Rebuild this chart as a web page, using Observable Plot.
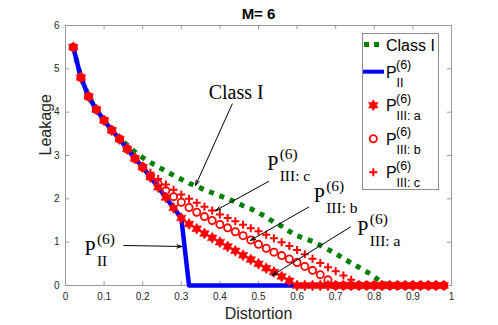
<!DOCTYPE html>
<html><head><meta charset="utf-8">
<script src="https://cdn.jsdelivr.net/npm/d3@7"></script>
<script src="https://cdn.jsdelivr.net/npm/@observablehq/plot@0.6"></script>
<style>html,body{margin:0;padding:0;background:#fff;overflow:hidden}#chart svg{display:block}</style>
</head><body><div id="chart"></div>
<script>
const distortion = [0.02,0.04,0.06,0.08,0.10,0.12,0.14,0.16,0.18,0.20,0.22,0.24,0.26,0.28,0.30,0.32,0.34,0.36,0.38,0.40,0.42,0.44,0.46,0.48,0.50,0.52,0.54,0.56,0.58,0.60,0.62,0.64,0.66,0.68,0.70,0.72,0.74,0.76,0.78,0.80,0.82,0.84,0.86,0.88,0.90,0.92,0.94,0.96,0.98];
const classI = [5.50,4.80,4.36,4.06,3.81,3.58,3.38,3.24,3.08,2.95,2.84,2.74,2.64,2.54,2.45,2.36,2.29,2.21,2.14,2.07,2.00,1.93,1.84,1.77,1.68,1.58,1.46,1.37,1.25,1.15,1.08,1.02,0.93,0.83,0.74,0.62,0.52,0.42,0.32,0.20,0.07,0,0,0,0,0,0,0,0];
const pII = [5.50,4.80,4.36,4.06,3.81,3.58,3.38,3.15,2.93,2.73,2.50,2.27,2.03,1.79,1.56,0,0,0,0,0,0,0,0,0,0,0,0,0,0,0,0,0,0,0,0,0,0,0,0,0,0,0,0,0,0,0,0,0,0];
const pIIIa = [5.50,4.80,4.36,4.06,3.81,3.58,3.38,3.15,2.93,2.73,2.50,2.27,2.03,1.79,1.56,1.42,1.31,1.20,1.10,1.00,0.90,0.80,0.70,0.60,0.50,0.40,0.31,0.21,0.11,0,0,0,0,0,0,0,0,0,0,0,0,0,0,0,0,0,0,0,0];
const pIIIb = [5.50,4.80,4.36,4.06,3.81,3.58,3.38,3.15,2.93,2.73,2.52,2.35,2.19,2.05,1.92,1.80,1.69,1.59,1.50,1.41,1.33,1.24,1.15,1.05,0.95,0.86,0.77,0.69,0.61,0.53,0.44,0.35,0.25,0.13,0,0,0,0,0,0,0,0,0,0,0,0,0,0,0];
const pIIIc = [5.50,4.80,4.36,4.06,3.81,3.58,3.38,3.15,2.93,2.76,2.60,2.46,2.33,2.21,2.10,2.00,1.91,1.82,1.73,1.64,1.56,1.48,1.40,1.32,1.25,1.17,1.09,1.00,0.91,0.82,0.72,0.62,0.52,0.42,0.33,0.23,0.13,0,0,0,0,0,0,0,0,0,0,0,0];

const xTicks = [0,0.1,0.2,0.3,0.4,0.5,0.6,0.7,0.8,0.9,1];
const xTickLabels = ["0","0.1","0.2","0.3","0.4","0.5","0.6","0.7","0.8","0.9","1"];
const yTicks = [0,1,2,3,4,5,6];
const title = "M= 6";
const xLabel = "Distortion";
const yLabel = "Leakage";
const legendClassI = "Class I";
const letterP = "P";
const superscript = "(6)";
const seriesSubs = ["II","III: a","III: b","III: c"];

// annotations (data units)
const classIAnnot = [{label: "Class I", x: 0.371, y: 4.31}];
const pAnnots = [
  {sub: "II", x: 0.049, y: 0.715},
  {sub: "III: c", x: 0.5225, y: 2.666},
  {sub: "III: b", x: 0.643, y: 1.92},
  {sub: "III: a", x: 0.756, y: 1.154}
];
const arrows = [
  {x1: 0.432, y1: 4.19, x2: 0.337, y2: 2.31},
  {x1: 0.526, y1: 2.40, x2: 0.389, y2: 1.73},
  {x1: 0.630, y1: 1.81, x2: 0.479, y2: 1.04},
  {x1: 0.738, y1: 1.35, x2: 0.535, y2: 0.23},
  {x1: 0.151, y1: 0.923, x2: 0.302, y2: 0.90}
];

const rows = distortion.map((x, i) => ({x, classI: classI[i], pII: pII[i], a: pIIIa[i], b: pIIIb[i], c: pIIIc[i]}));

const sans = "'Liberation Sans', Arial, Helvetica, sans-serif";
const serif = "'Liberation Serif', 'Times New Roman', serif";
const axisGray = "#999999";

const hexagram = {draw(ctx, size) {
  const R = Math.sqrt(size / Math.PI), r = R / Math.sqrt(3);
  for (let i = 0; i < 12; i++) {
    const ang = -Math.PI / 2 + i * Math.PI / 6;
    const rr = i % 2 ? r : R;
    const px = rr * Math.cos(ang), py = rr * Math.sin(ang);
    if (i) ctx.lineTo(px, py); else ctx.moveTo(px, py);
  }
  ctx.closePath();
}};
const plusSym = {draw(ctx, size) {
  const R = Math.sqrt(size / Math.PI);
  ctx.moveTo(-R, 0); ctx.lineTo(R, 0);
  ctx.moveTo(0, -R); ctx.lineTo(0, R);
}};

const svg = Plot.plot({
  width: 498, height: 325,
  marginLeft: 65, marginRight: 47, marginTop: 25, marginBottom: 40,
  x: {domain: [0, 1]},
  y: {domain: [0, 6]},
  style: {fontFamily: sans, fontSize: "10px", color: "#262626", background: "white", overflow: "visible"},
  marks: [
    Plot.frame({stroke: axisGray}),
    Plot.tickX(xTicks, {x: d => d, stroke: axisGray, insetTop: 256}),
    Plot.tickX(xTicks, {x: d => d, stroke: axisGray, insetBottom: 256}),
    Plot.tickY(yTicks, {y: d => d, stroke: axisGray, insetRight: 382}),
    Plot.tickY(yTicks, {y: d => d, stroke: axisGray, insetLeft: 382}),
    Plot.axisX(xTicks, {tickSize: 0, tickPadding: 7, fontSize: 10, label: null, tickFormat: d => xTickLabels[xTicks.indexOf(d)]}),
    Plot.axisY(yTicks, {tickSize: 0, tickPadding: 6, fontSize: 10, label: null}),
    Plot.line(rows, {x: "x", y: "classI", stroke: "#008000", strokeWidth: 5, strokeDasharray: "5,6", strokeLinecap: "butt"}),
    Plot.line(rows, {x: "x", y: "pII", stroke: "#0000ff", strokeWidth: 4.5}),
    Plot.dot(rows, {x: "x", y: "a", symbol: hexagram, r: 5.5, fill: "#ff0000", stroke: "#ff0000", strokeWidth: 0.6}),
    Plot.dot(rows, {x: "x", y: "b", symbol: "circle", r: 3.6, fill: "none", stroke: "#ff0000", strokeWidth: 1.8}),
    Plot.dot(rows, {x: "x", y: "c", symbol: plusSym, r: 4, fill: "none", stroke: "#ff0000", strokeWidth: 2}),
    Plot.arrow(arrows, {x1: "x1", y1: "y1", x2: "x2", y2: "y2", stroke: "black", strokeWidth: 1, headLength: 8, headAngle: 35}),
    Plot.text(classIAnnot, {x: "x", y: "y", text: "label", textAnchor: "start", lineAnchor: "bottom", fontSize: 20, fontFamily: serif, fill: "black"}),
    Plot.text(pAnnots, {x: "x", y: "y", text: () => letterP, textAnchor: "start", lineAnchor: "bottom", fontSize: 20, fontFamily: serif, fill: "black"}),
    Plot.text(pAnnots, {x: "x", y: "y", text: () => superscript, dx: 12.5, dy: -11, textAnchor: "start", lineAnchor: "bottom", fontSize: 15.5, fontFamily: serif, fill: "black"}),
    Plot.text(pAnnots, {x: "x", y: "y", text: "sub", dx: 12.5, dy: 11, textAnchor: "start", lineAnchor: "bottom", fontSize: 15.5, fontFamily: serif, fill: "black"}),
    Plot.text([title], {frameAnchor: "top", dy: -6.5, lineAnchor: "bottom", fontSize: 15, fontWeight: "bold", fill: "black"}),
    Plot.text([xLabel], {frameAnchor: "bottom", dy: 33, lineAnchor: "bottom", fontSize: 16, fill: "#262626"}),
    Plot.text([yLabel], {frameAnchor: "left", dx: -15, rotate: -90, lineAnchor: "bottom", fontSize: 16, fill: "#262626"})
  ]
});

// legend
const L = d3.select(svg).append("g").attr("font-family", sans).attr("fill", "black").attr("text-anchor", "start");
L.append("rect").attr("x", 362.5).attr("y", 33.5).attr("width", 76).attr("height", 156)
  .attr("fill", "white").attr("stroke", "#8c8c8c");
L.append("line").attr("x1", 364).attr("x2", 384).attr("y1", 44.5).attr("y2", 44.5)
  .attr("stroke", "#008000").attr("stroke-width", 5).attr("stroke-dasharray", "5,5");
L.append("text").attr("x", 386).attr("y", 50.7).attr("font-size", 16).attr("text-anchor", "start").text(legendClassI);
L.append("line").attr("x1", 363).attr("x2", 384).attr("y1", 71.7).attr("y2", 71.7)
  .attr("stroke", "#0000ff").attr("stroke-width", 4);
const markers = [
  null,
  {sym: hexagram, r: 5.5, fill: "#ff0000", stroke: "#ff0000", sw: 0.6},
  {sym: d3.symbolCircle, r: 3.6, fill: "none", stroke: "#ff0000", sw: 1.8},
  {sym: plusSym, r: 4, fill: "none", stroke: "#ff0000", sw: 2}
];
seriesSubs.forEach((sub, i) => {
  const base = 77.7 + i * 33.5;
  const m = markers[i];
  if (m) {
    L.append("path").attr("d", d3.symbol().type(m.sym).size(Math.PI * m.r * m.r)())
      .attr("transform", `translate(373.3,${base - 6})`)
      .attr("fill", m.fill).attr("stroke", m.stroke).attr("stroke-width", m.sw);
  }
  L.append("text").attr("x", 386).attr("y", base).attr("font-size", 16).attr("text-anchor", "start").text(letterP);
  L.append("text").attr("x", 396).attr("y", base - 8.5).attr("font-size", 12.5).attr("text-anchor", "start").text(superscript);
  L.append("text").attr("x", 396.5).attr("y", base + 9).attr("font-size", 12.5).attr("text-anchor", "start").text(sub);
});

document.getElementById("chart").appendChild(svg);
</script>
</body></html>
